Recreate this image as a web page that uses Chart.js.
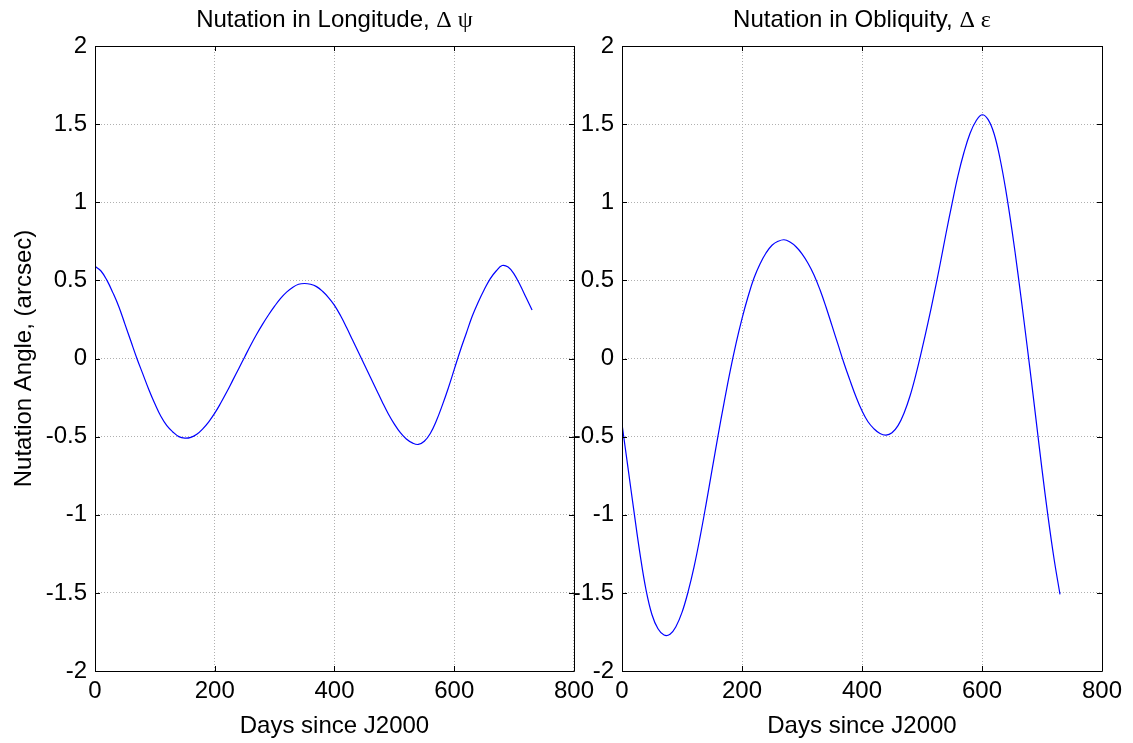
<!DOCTYPE html>
<html><head><meta charset="utf-8">
<script src="https://cdn.jsdelivr.net/npm/chart.js@4/dist/chart.umd.min.js"></script>
<style>
html,body{margin:0;padding:0;background:#fff;width:1133px;height:743px;overflow:hidden}
canvas{position:absolute;top:0}
</style></head><body>
<canvas id="c1" width="600" height="743" style="left:0px"></canvas>
<canvas id="c2" width="603" height="743" style="left:530px"></canvas>
<script>
const days = [0,10,20,30,40,50,60,70,80,90,100,110,120,130,140,150,160,170,180,190,200,210,220,230,240,250,260,270,280,290,300,310,320,330,340,350,360,370,380,390,400,410,420,430,440,450,460,470,480,490,500,510,520,530,540,550,560,570,580,590,600,610,620,630,640,650,660,670,680,690,700,710,720,730];
const dPsi = [0.59,0.56,0.50,0.42,0.33,0.22,0.11,0.00,-0.10,-0.20,-0.29,-0.37,-0.43,-0.47,-0.50,-0.51,-0.505,-0.485,-0.45,-0.405,-0.35,-0.285,-0.215,-0.14,-0.065,0.01,0.085,0.155,0.22,0.28,0.335,0.385,0.425,0.455,0.475,0.48,0.475,0.46,0.43,0.39,0.34,0.275,0.20,0.12,0.04,-0.04,-0.12,-0.20,-0.28,-0.355,-0.42,-0.475,-0.515,-0.54,-0.55,-0.53,-0.48,-0.40,-0.30,-0.19,-0.07,0.05,0.16,0.27,0.36,0.44,0.51,0.56,0.595,0.585,0.54,0.47,0.39,0.31];
const dEps = [-0.42,-0.70,-0.98,-1.25,-1.48,-1.64,-1.73,-1.77,-1.765,-1.715,-1.625,-1.495,-1.335,-1.145,-0.935,-0.715,-0.495,-0.285,-0.085,0.095,0.255,0.395,0.515,0.605,0.675,0.725,0.75,0.76,0.745,0.715,0.67,0.61,0.535,0.44,0.33,0.21,0.09,-0.03,-0.14,-0.245,-0.335,-0.405,-0.45,-0.48,-0.49,-0.475,-0.43,-0.35,-0.24,-0.10,0.06,0.23,0.41,0.60,0.80,0.99,1.17,1.32,1.44,1.52,1.56,1.53,1.44,1.28,1.07,0.82,0.54,0.24,-0.07,-0.39,-0.71,-1.01,-1.28,-1.51];
const xTicks = [0,200,400,600,800];
const yTicks = [-2,-1.5,-1,-0.5,0,0.5,1,1.5,2];
const titles = [["Nutation in Longitude, ", "\u0394 \u03C8"], ["Nutation in Obliquity, ", "\u0394 \u03B5"]];
const xLabel = "Days since J2000";
const yLabel = "Nutation Angle, (arcsec)";

const SANS = "'Liberation Sans', Arial, Helvetica, sans-serif";
const SERIF = "'Liberation Serif', 'Times New Roman', serif";
const FS = 24;

const framePlugin = {
  id: 'frame',
  afterDraw(chart, args, opts) {
    const ctx = chart.ctx, a = chart.chartArea;
    const xs = chart.scales.x, ys = chart.scales.y;
    ctx.save();
    ctx.strokeStyle = '#000';
    ctx.lineWidth = 1;
    ctx.beginPath();
    ctx.rect(Math.round(a.left) + 0.5, Math.round(a.top) + 0.5, Math.round(a.right - a.left), Math.round(a.bottom - a.top));
    ctx.stroke();
    const L = 5;
    ctx.beginPath();
    xTicks.forEach(v => {
      const px = Math.round(xs.getPixelForValue(v)) + 0.5;
      ctx.moveTo(px, a.top); ctx.lineTo(px, a.top + L);
      ctx.moveTo(px, a.bottom); ctx.lineTo(px, a.bottom - L);
    });
    yTicks.forEach(v => {
      const py = Math.round(ys.getPixelForValue(v)) + 0.5;
      ctx.moveTo(a.left, py); ctx.lineTo(a.left + L, py);
      ctx.moveTo(a.right, py); ctx.lineTo(a.right - L, py);
    });
    ctx.stroke();
    const t = opts.text;
    ctx.fillStyle = '#000';
    ctx.textBaseline = 'alphabetic';
    ctx.font = FS + 'px ' + SANS;
    const w1 = ctx.measureText(t[0]).width;
    ctx.font = FS + 'px ' + SERIF;
    const w2 = ctx.measureText(t[1]).width;
    const cx = (a.left + a.right) / 2;
    const x0 = cx - (w1 + w2) / 2;
    const by = 27;
    ctx.textAlign = 'left';
    ctx.font = FS + 'px ' + SANS;
    ctx.fillText(t[0], x0, by);
    ctx.font = FS + 'px ' + SERIF;
    ctx.fillText(t[1], x0 + w1, by);
    ctx.restore();
  }
};

function makeChart(id, values, idx, yAxisWidth, padRight) {
  const pts = days.map((d, i) => ({x: d, y: values[i]}));
  return new Chart(document.getElementById(id), {
    type: 'line',
    data: { datasets: [{ data: pts, borderColor: '#0000ff', borderWidth: 1.2, pointRadius: 0, fill: false, tension: 0.4 }] },
    options: {
      responsive: false,
      animation: false,
      events: [],
      layout: { padding: { top: 46, right: padRight, bottom: 0, left: 0 } },
      plugins: { legend: { display: false }, tooltip: { enabled: false }, frame: { text: titles[idx] } },
      scales: {
        x: {
          type: 'linear', min: 0, max: 800,
          afterBuildTicks: s => { s.ticks = xTicks.map(v => ({value: v})); },
          ticks: { color: '#000', font: { family: SANS, size: FS }, padding: 6, maxRotation: 0, callback: v => String(v) },
          grid: { color: '#b0b0b0', lineWidth: 1, drawTicks: false },
          border: { display: false, dash: [1, 2] },
          title: { display: true, text: xLabel, color: '#000', font: { family: SANS, size: FS }, padding: { top: 0, bottom: 2 } },
          afterFit: s => { s.height = 72; }
        },
        y: {
          type: 'linear', min: -2, max: 2,
          afterBuildTicks: s => { s.ticks = yTicks.map(v => ({value: v})); },
          ticks: { color: '#000', font: { family: SANS, size: FS }, padding: 8, callback: v => String(v) },
          grid: { color: '#b0b0b0', lineWidth: 1, drawTicks: false },
          border: { display: false, dash: [1, 2] },
          title: { display: idx === 0, text: yLabel, color: '#000', font: { family: SANS, size: FS }, padding: { top: 10, bottom: 0 } },
          afterFit: s => { s.width = yAxisWidth; }
        }
      }
    },
    plugins: [framePlugin]
  });
}
makeChart('c1', dPsi, 0, 95, 26);
makeChart('c2', dEps, 1, 92, 31);
</script>
</body></html>
